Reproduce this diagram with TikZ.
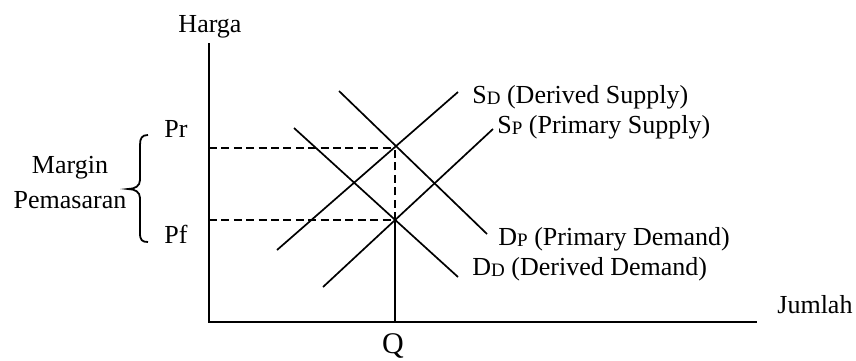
\documentclass[tikz,border=0pt]{standalone}
\usepackage{fontspec}
\setmainfont{Liberation Serif}
\newcommand{\subl}[1]{\raisebox{-0.6pt}{\fontsize{9.5}{10}\selectfont #1}}
\begin{document}
\begin{tikzpicture}[x=0.5pt,y=-0.5pt,
  txt/.style={inner sep=0pt,font=\fontsize{13}{15}\selectfont},
  curve/.style={line width=0.85pt},
  axis/.style={line width=0.85pt},
  guide/.style={line width=0.85pt,dash pattern=on 4pt off 2.2pt}]
\useasboundingbox[fill=white] (0,0) rectangle (856,360);
% axes
\coordinate (ytop) at (209,43);
\coordinate (O) at (209,322);
\coordinate (xend) at (757,322);
\draw[axis] (ytop) -- (O) -- (xend);
% equilibrium points
\coordinate (Qf) at (395,322);
\coordinate (E1) at (395,148);
\coordinate (E2) at (395,220);
\coordinate (Pry) at (209,148);
\coordinate (Pfy) at (209,220);
\draw[axis] (Qf) -- (E2);
\draw[guide] (E2) -- (E1);
\draw[guide] (Pry) -- (E1);
\draw[guide] (Pfy) -- (E2);
% curves
\coordinate (sd1) at (277,250); \coordinate (sd2) at (458,92);
\coordinate (sp1) at (323,287); \coordinate (sp2) at (493,129);
\coordinate (dp1) at (339,91);  \coordinate (dp2) at (487,234);
\coordinate (dd1) at (294,128); \coordinate (dd2) at (458,277);
\draw[curve] (sd1) -- (sd2);
\draw[curve] (sp1) -- (sp2);
\draw[curve] (dp1) -- (dp2);
\draw[curve] (dd1) -- (dd2);
% labels
\node[txt,anchor=base] (harga) at (210,32) {Harga};
\node[txt,anchor=base west] (jumlah) at (777,313) {Jumlah};
\node[txt,anchor=base,font=\fontsize{15}{17}\selectfont] (q) at (393,353) {Q};
\node[txt,anchor=base west] (pr) at (164,137) {Pr};
\node[txt,anchor=base west] (pf) at (164,243) {Pf};
\node[txt,anchor=base] (margin) at (70,173) {Margin};
\node[txt,anchor=base] (pemasaran) at (70,208) {Pemasaran};
\node[txt,anchor=base west] (lsd) at (472,103) {S\subl{D} (Derived Supply)};
\node[txt,anchor=base west] (lsp) at (497,133) {S\subl{P} (Primary Supply)};
\node[txt,anchor=base west] (ldp) at (498,245) {D\subl{P} (Primary Demand)};
\node[txt,anchor=base west] (ldd) at (472,275) {D\subl{D} (Derived Demand)};
% brace
\draw[line width=0.9pt] (148,135) .. controls (142,135) and (140,138) .. (140,145)
  -- (140,180) .. controls (140,186) and (135,189) .. (128,189)
  .. controls (135,189) and (140,192) .. (140,198)
  -- (140,233) .. controls (140,240) and (142,242) .. (148,242);
\end{tikzpicture}
\end{document}
